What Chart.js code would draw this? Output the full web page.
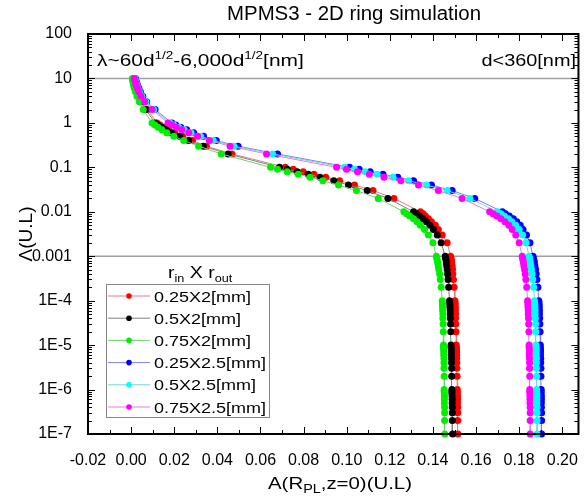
<!DOCTYPE html>
<html>
<head>
<meta charset="utf-8">
<script src="https://cdn.jsdelivr.net/npm/chart.js@4.4.1/dist/chart.umd.min.js"></script>
<style>
  html, body { margin: 0; padding: 0; background: #fff; }
  #wrap { width: 587px; height: 501px; }
</style>
</head>
<body>
<div id="wrap"><canvas id="ringChart" width="587" height="501"></canvas></div>
<script>
// Lambda (U.L) sample values, shared by every curve
const lambdaVals = [10,
  9, 8, 7, 6, 5, 4, 3, 2, 1,
  0.9, 0.8, 0.7, 0.6, 0.5, 0.4, 0.3, 0.2, 0.1,
  0.09, 0.08, 0.07, 0.06, 0.05, 0.04, 0.03, 0.02, 0.01,
  9e-3, 8e-3, 7e-3, 6e-3, 5e-3, 4e-3, 3e-3, 2e-3, 1e-3,
  9e-4, 8e-4, 7e-4, 6e-4, 5e-4, 4e-4, 3e-4, 2e-4, 1e-4,
  9e-5, 8e-5, 7e-5, 6e-5, 5e-5, 4e-5, 3e-5, 2e-5, 1e-5,
  9e-6, 8e-6, 7e-6, 6e-6, 5e-6, 4e-6, 3e-6, 2e-6, 1e-6,
  9e-7, 8e-7, 7e-7, 6e-7, 5e-7, 4e-7, 3e-7, 2e-7, 1e-7];

// A(R_PL, z=0) for each ring, same order as lambdaVals
const a025x2 = [0.0013,
  0.0015, 0.0017, 0.0020, 0.0024, 0.0029, 0.0038, 0.0052, 0.0075, 0.0120,
  0.0134, 0.0152, 0.0175, 0.0203, 0.0239, 0.0285, 0.0349, 0.0468, 0.0715,
  0.0752, 0.0798, 0.0848, 0.0903, 0.0967, 0.1036, 0.1122, 0.1219, 0.1342,
  0.1354, 0.1365, 0.1379, 0.1393, 0.1411, 0.1425, 0.1443, 0.1466, 0.1482,
  0.1484, 0.1486, 0.1487, 0.1489, 0.1491, 0.1492, 0.1495, 0.1498, 0.1502,
  0.1503, 0.1503, 0.1504, 0.1504, 0.1505, 0.1505, 0.1506, 0.1507, 0.1508,
  0.1509, 0.1509, 0.1510, 0.1510, 0.1510, 0.1511, 0.1511, 0.1512, 0.1513,
  0.1513, 0.1513, 0.1514, 0.1514, 0.1514, 0.1515, 0.1515, 0.1515, 0.1516];
const a05x2 = [0.0011,
  0.0013, 0.0015, 0.0017, 0.0022, 0.0027, 0.0033, 0.0047, 0.0068, 0.0111,
  0.0125, 0.0143, 0.0164, 0.0189, 0.0226, 0.0267, 0.0335, 0.0450, 0.0688,
  0.0724, 0.0770, 0.0821, 0.0876, 0.0940, 0.1008, 0.1095, 0.1191, 0.1310,
  0.1324, 0.1338, 0.1354, 0.1370, 0.1386, 0.1402, 0.1420, 0.1438, 0.1457,
  0.1459, 0.1461, 0.1462, 0.1464, 0.1466, 0.1468, 0.1470, 0.1473, 0.1477,
  0.1478, 0.1479, 0.1479, 0.1480, 0.1480, 0.1481, 0.1482, 0.1483, 0.1484,
  0.1484, 0.1485, 0.1485, 0.1485, 0.1486, 0.1486, 0.1487, 0.1487, 0.1488,
  0.1488, 0.1488, 0.1489, 0.1489, 0.1489, 0.1490, 0.1490, 0.1490, 0.1491];
const a075x2 = [0.0006,
  0.0007, 0.0009, 0.0011, 0.0015, 0.0020, 0.0027, 0.0038, 0.0056, 0.0097,
  0.0111, 0.0125, 0.0143, 0.0166, 0.0198, 0.0244, 0.0313, 0.0418, 0.0647,
  0.0679, 0.0724, 0.0775, 0.0830, 0.0889, 0.0962, 0.1045, 0.1146, 0.1265,
  0.1278, 0.1292, 0.1310, 0.1326, 0.1342, 0.1361, 0.1379, 0.1400, 0.1416,
  0.1418, 0.1420, 0.1422, 0.1425, 0.1427, 0.1431, 0.1434, 0.1438, 0.1443,
  0.1444, 0.1444, 0.1445, 0.1445, 0.1446, 0.1446, 0.1447, 0.1448, 0.1449,
  0.1449, 0.1450, 0.1450, 0.1450, 0.1451, 0.1451, 0.1451, 0.1452, 0.1452,
  0.1452, 0.1453, 0.1453, 0.1453, 0.1453, 0.1454, 0.1454, 0.1454, 0.1455];
const a025x25 = [0.0020,
  0.0022, 0.0026, 0.0030, 0.0036, 0.0043, 0.0054, 0.0072, 0.0111, 0.0189,
  0.0207, 0.0230, 0.0258, 0.0290, 0.0336, 0.0395, 0.0496, 0.0679, 0.1013,
  0.1058, 0.1109, 0.1168, 0.1237, 0.1310, 0.1393, 0.1489, 0.1594, 0.1722,
  0.1736, 0.1754, 0.1773, 0.1789, 0.1805, 0.1818, 0.1834, 0.1850, 0.1864,
  0.1866, 0.1869, 0.1871, 0.1873, 0.1876, 0.1879, 0.1882, 0.1887, 0.1891,
  0.1892, 0.1893, 0.1893, 0.1894, 0.1894, 0.1895, 0.1896, 0.1897, 0.1898,
  0.1898, 0.1899, 0.1899, 0.1899, 0.1900, 0.1900, 0.1901, 0.1901, 0.1902,
  0.1902, 0.1902, 0.1903, 0.1903, 0.1903, 0.1903, 0.1904, 0.1904, 0.1904];
const a05x25 = [0.0017,
  0.0020, 0.0023, 0.0027, 0.0032, 0.0039, 0.0050, 0.0068, 0.0104, 0.0180,
  0.0198, 0.0221, 0.0246, 0.0278, 0.0322, 0.0381, 0.0477, 0.0656, 0.0990,
  0.1036, 0.1086, 0.1141, 0.1214, 0.1287, 0.1370, 0.1466, 0.1571, 0.1699,
  0.1715, 0.1731, 0.1750, 0.1766, 0.1784, 0.1800, 0.1816, 0.1832, 0.1846,
  0.1848, 0.1850, 0.1852, 0.1854, 0.1857, 0.1860, 0.1863, 0.1867, 0.1871,
  0.1872, 0.1873, 0.1873, 0.1874, 0.1874, 0.1875, 0.1876, 0.1877, 0.1878,
  0.1878, 0.1879, 0.1879, 0.1879, 0.1880, 0.1880, 0.1880, 0.1881, 0.1881,
  0.1881, 0.1882, 0.1882, 0.1882, 0.1882, 0.1883, 0.1883, 0.1883, 0.1883];
const a075x25 = [0.0015,
  0.0017, 0.0021, 0.0024, 0.0029, 0.0036, 0.0046, 0.0063, 0.0097, 0.0171,
  0.0189, 0.0210, 0.0235, 0.0267, 0.0308, 0.0363, 0.0459, 0.0628, 0.0953,
  0.0999, 0.1050, 0.1105, 0.1173, 0.1251, 0.1333, 0.1425, 0.1535, 0.1663,
  0.1679, 0.1697, 0.1715, 0.1734, 0.1752, 0.1768, 0.1784, 0.1800, 0.1814,
  0.1816, 0.1818, 0.1820, 0.1822, 0.1825, 0.1828, 0.1831, 0.1835, 0.1839,
  0.1840, 0.1841, 0.1841, 0.1842, 0.1842, 0.1843, 0.1844, 0.1845, 0.1846,
  0.1846, 0.1847, 0.1847, 0.1847, 0.1848, 0.1848, 0.1848, 0.1849, 0.1849,
  0.1849, 0.1850, 0.1850, 0.1850, 0.1850, 0.1851, 0.1851, 0.1851, 0.1851];

const seriesNames = ['0.25X2[mm]', '0.5X2[mm]', '0.75X2[mm]', '0.25X2.5[mm]', '0.5X2.5[mm]', '0.75X2.5[mm]'];
const seriesValues = [a025x2, a05x2, a075x2, a025x25, a05x25, a075x25];
const pointColors = ['#ff0000', '#000000', '#00ee00', '#0000ff', '#00ffff', '#ff00ff'];
const lineColors = ['#e08080', '#808080', '#70d070', '#8080e0', '#70d8d8', '#e080e0'];

const xTicks = [-0.02, 0, 0.02, 0.04, 0.06, 0.08, 0.10, 0.12, 0.14, 0.16, 0.18, 0.20];
const xTickLabels = ['-0.02', '0.00', '0.02', '0.04', '0.06', '0.08', '0.10', '0.12', '0.14', '0.16', '0.18', '0.20'];
const yTicks = [100, 10, 1, 0.1, 0.01, 0.001, 1e-4, 1e-5, 1e-6, 1e-7];
const yTickLabels = ['100', '10', '1', '0.1', '0.01', '0.001', '1E-4', '1E-5', '1E-6', '1E-7'];
const refLines = [10, 0.001];

const FONT = '"Liberation Sans", Arial, sans-serif';
Chart.defaults.font.family = FONT;
Chart.defaults.color = '#000';

// draws a run of text pieces [text, size, dy], stretched horizontally by sx
function richText(ctx, parts, x, y, sx, align) {
    ctx.save();
    let w = 0;
    parts.forEach(p => { ctx.font = p[1] + 'px ' + FONT; w += ctx.measureText(p[0]).width; });
    ctx.translate(x, y);
    ctx.scale(sx, 1);
    let cx = align === 'center' ? -w / 2 : (align === 'right' ? -w : 0);
    ctx.fillStyle = '#000';
    ctx.textAlign = 'left';
    ctx.textBaseline = 'alphabetic';
    parts.forEach(p => {
        ctx.font = p[1] + 'px ' + FONT;
        ctx.fillText(p[0], cx, p[2] || 0);
        cx += ctx.measureText(p[0]).width;
    });
    ctx.restore();
}

const framePlugin = {
    id: 'framePlugin',
    beforeDatasetsDraw(chart) {
        const { ctx, chartArea: a, scales: { y } } = chart;
        ctx.save();
        ctx.strokeStyle = '#a0a0a0';
        ctx.lineWidth = 1.5;
        refLines.forEach(v => {
            const py = y.getPixelForValue(v);
            ctx.beginPath(); ctx.moveTo(a.left, py); ctx.lineTo(a.right, py); ctx.stroke();
        });
        ctx.restore();
    },
    afterDraw(chart) {
        const { ctx, chartArea: a, scales: { x, y } } = chart;
        ctx.save();
        ctx.strokeStyle = '#000';
        ctx.lineWidth = 1;
        // inward ticks on all four sides
        const tickX = (v, len) => {
            const px = Math.round(x.getPixelForValue(v)) + 0.5;
            ctx.beginPath();
            ctx.moveTo(px, a.bottom); ctx.lineTo(px, a.bottom - len);
            ctx.moveTo(px, a.top); ctx.lineTo(px, a.top + len);
            ctx.stroke();
        };
        const tickY = (v, len) => {
            const py = Math.round(y.getPixelForValue(v)) + 0.5;
            ctx.beginPath();
            ctx.moveTo(a.left, py); ctx.lineTo(a.left + len, py);
            ctx.moveTo(a.right, py); ctx.lineTo(a.right - len, py);
            ctx.stroke();
        };
        xTicks.forEach((v, i) => {
            tickX(v, 7);
            if (i < xTicks.length - 1) tickX((v + xTicks[i + 1]) / 2, 4);
        });
        yTicks.forEach((v, i) => {
            tickY(v, 7);
            if (i < yTicks.length - 1) for (let m = 2; m <= 9; m++) tickY(yTicks[i + 1] * m, 4);
        });
        ctx.lineWidth = 2;
        ctx.strokeRect(a.left, a.top, a.right - a.left, a.bottom - a.top);

        // title and annotations
        richText(ctx, [['MPMS3 - 2D ring simulation', 20]], 354, 20, 1.02, 'center');
        richText(ctx, [['λ~60d', 17], ['1/2', 11, -7], ['-6,000d', 17], ['1/2', 11, -7], ['[nm]', 17]], 97, 66, 1.23, 'left');
        richText(ctx, [['d<360[nm]', 17]], 576, 66, 1.17, 'right');
        richText(ctx, [['A(R', 17], ['PL', 12, 4], [',z=0)(U.L)', 17]], 340, 489, 1.2, 'center');
        ctx.save();
        ctx.translate(25, 234);
        ctx.rotate(-Math.PI / 2);
        richText(ctx, [['Λ(U.L)', 19]], 0, 7, 1, 'center');
        ctx.restore();

        // legend
        richText(ctx, [['r', 17], ['in', 11, 4], [' X ', 17], ['r', 17], ['out', 11, 4]], 168, 278, 1.15, 'left');
        ctx.fillStyle = '#fff';
        ctx.fillRect(106, 284, 163, 133);
        ctx.strokeStyle = '#888';
        ctx.lineWidth = 1;
        ctx.strokeRect(106.5, 284.5, 163, 133);
        seriesNames.forEach((name, i) => {
            const ry = 296 + i * 22.2;
            ctx.strokeStyle = lineColors[i];
            ctx.beginPath(); ctx.moveTo(108, ry); ctx.lineTo(150, ry); ctx.stroke();
            ctx.fillStyle = pointColors[i];
            ctx.beginPath(); ctx.arc(129, ry, 2.8, 0, Math.PI * 2); ctx.fill();
            richText(ctx, [[name, 15]], 154, ry + 5.5, 1.2, 'left');
        });
        ctx.restore();
    }
};

const datasets = seriesNames.map((name, i) => ({
    label: name,
    data: lambdaVals.map((l, j) => ({ x: seriesValues[i][j], y: l })),
    showLine: true,
    borderColor: lineColors[i],
    borderWidth: 1,
    pointRadius: 3.5,
    pointHoverRadius: 3.5,
    pointBorderWidth: 0,
    pointBackgroundColor: pointColors[i],
    order: seriesNames.length - i,
    clip: 8
}));

new Chart(document.getElementById('ringChart'), {
    type: 'scatter',
    data: { datasets },
    options: {
        responsive: false,
        animation: false,
        layout: { padding: { top: 34, right: 4, left: 0, bottom: 0 } },
        plugins: { legend: { display: false }, tooltip: { enabled: false } },
        scales: {
            x: {
                type: 'linear',
                min: -0.02,
                max: 0.2075,
                grid: { display: false },
                border: { display: false },
                afterBuildTicks: axis => { axis.ticks = xTicks.map(v => ({ value: v })); },
                afterFit: axis => { axis.height = 67; },
                ticks: {
                    autoSkip: false, maxRotation: 0, padding: 9,
                    font: { size: 16 },
                    callback: (v, i) => xTickLabels[i]
                }
            },
            y: {
                type: 'logarithmic',
                min: 1e-7,
                max: 100,
                grid: { display: false },
                border: { display: false },
                afterBuildTicks: axis => { axis.ticks = yTicks.map(v => ({ value: v, major: true })); },
                afterFit: axis => { axis.width = 88; },
                ticks: {
                    autoSkip: false, padding: 8,
                    font: { size: 16 },
                    callback: (v) => yTickLabels[yTicks.indexOf(v)]
                }
            }
        }
    },
    plugins: [framePlugin]
});
</script>
</body>
</html>
